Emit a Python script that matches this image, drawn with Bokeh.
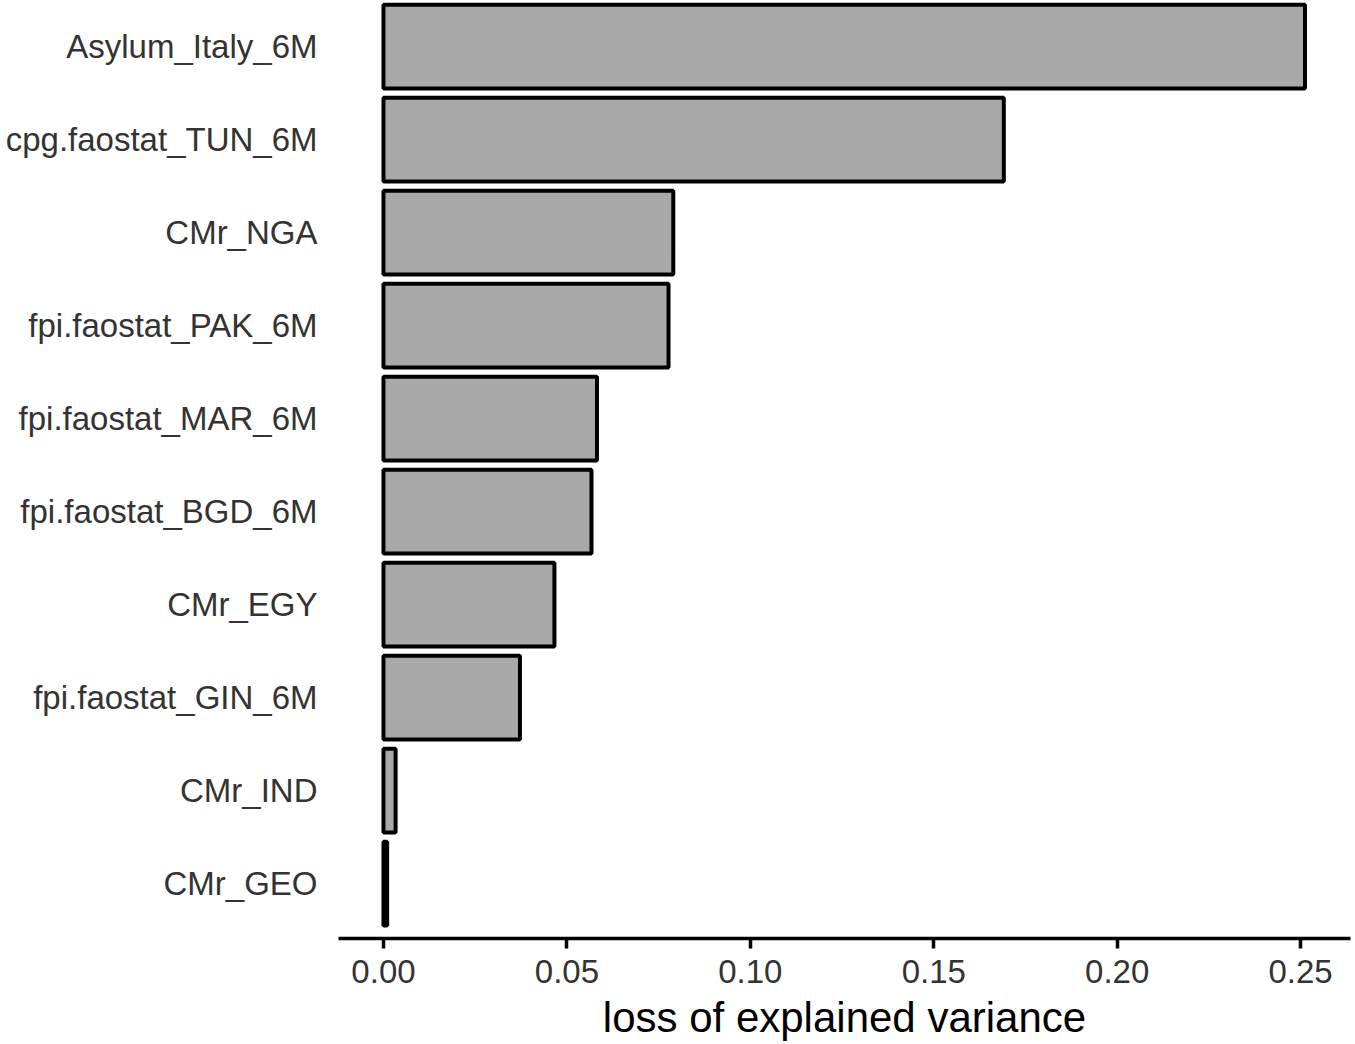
from bokeh.plotting import figure
from bokeh.models import Range1d, FixedTicker, NumeralTickFormatter
from bokeh.embed import file_html
from bokeh.resources import INLINE

# Data (bottom to top)
categories = ["CMr_GEO", "CMr_IND", "fpi.faostat_GIN_6M", "CMr_EGY",
              "fpi.faostat_BGD_6M", "fpi.faostat_MAR_6M", "fpi.faostat_PAK_6M",
              "CMr_NGA", "cpg.faostat_TUN_6M", "Asylum_Italy_6M"]
loss = [0.001, 0.0033, 0.0372, 0.0466, 0.0567, 0.0582, 0.0777, 0.0790, 0.1691, 0.2512]
x_ticks = [0.0, 0.05, 0.10, 0.15, 0.20, 0.25]

positions = list(range(len(categories)))

p = figure(width=1355, height=1044, output_backend="svg", toolbar_location=None,
           x_range=Range1d(-0.01226, 0.2636), y_range=Range1d(-0.591, 9.495),
           min_border_left=338, min_border_right=5, min_border_top=0,
           min_border_bottom=106)

p.hbar(y=positions, left=0, right=loss, height=0.9,
       fill_color="#A9A9A9", line_color="black", line_width=4)

font = "Liberation Sans"

p.xgrid.visible = False
p.ygrid.visible = False
p.outline_line_color = None
p.background_fill_color = "white"
p.border_fill_color = "white"

xa = p.xaxis[0]
xa.ticker = FixedTicker(ticks=x_ticks)
xa.formatter = NumeralTickFormatter(format="0.00")
xa.axis_line_width = 3.5
xa.axis_line_color = "black"
xa.major_tick_line_width = 3.5
xa.major_tick_line_color = "black"
xa.major_tick_out = 10
xa.major_tick_in = 0
xa.minor_tick_line_color = None
xa.major_label_text_font = font
xa.major_label_text_font_size = "33px"
xa.major_label_text_color = "#333333"
xa.major_label_standoff = 11
xa.axis_label = "loss of explained variance"
xa.axis_label_text_font = font
xa.axis_label_text_font_size = "42px"
xa.axis_label_text_font_style = "normal"
xa.axis_label_text_color = "black"
xa.axis_label_standoff = 8

ya = p.yaxis[0]
ya.ticker = FixedTicker(ticks=positions)
ya.major_label_overrides = {i: c for i, c in zip(positions, categories)}
ya.axis_line_color = None
ya.major_tick_line_color = None
ya.minor_tick_line_color = None
ya.major_tick_out = 0
ya.major_tick_in = 0
ya.major_label_standoff = 21
ya.major_label_text_font = font
ya.major_label_text_font_size = "33px"
ya.major_label_text_color = "#333333"

open("out.html", "w").write(file_html(p, INLINE))
